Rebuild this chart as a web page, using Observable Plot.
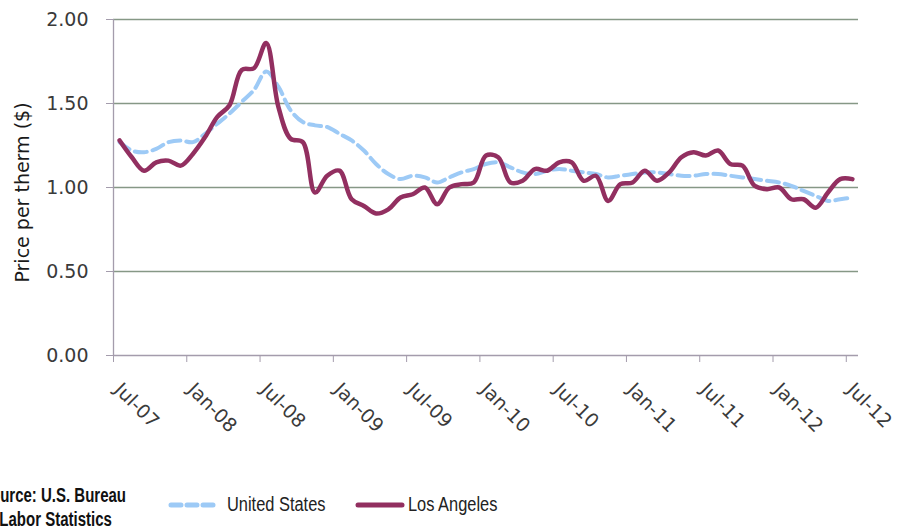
<!DOCTYPE html>
<html>
<head>
<meta charset="utf-8">
<script src="https://cdn.jsdelivr.net/npm/d3@7"></script>
<script src="https://cdn.jsdelivr.net/npm/@observablehq/plot@0.6"></script>
<style>
  body { margin: 0; background: #fff; }
  #wrap { position: relative; width: 897px; height: 531px; overflow: hidden; font-family: "DejaVu Sans", sans-serif; }
  #chart { position: absolute; left: 0; top: 0; }
  #caption { position: absolute; left: -19px; top: 483px; font-family: "Liberation Sans", Arial, sans-serif; font-weight: bold; font-size: 20px; line-height: 24px; color: #111; white-space: nowrap; transform: scaleX(0.75); transform-origin: 0 0; }
  .leg { position: absolute; top: 493px; font-family: "Liberation Sans", Arial, sans-serif; font-size: 20px; color: #222; white-space: nowrap; display: flex; align-items: center; }
  .leg span { display: inline-block; transform: scaleX(0.82); transform-origin: 0 50%; }
</style>
</head>
<body>
<div id="wrap">
  <div id="chart"></div>
  <div id="caption">Source: U.S. Bureau<br>of Labor Statistics</div>
  <div class="leg" id="leg0" style="left:168px"></div>
  <div class="leg" id="leg1" style="left:355px"></div>
</div>
<script>
// Tick labels every 6 months (Jul-07 … Jul-12)
const tickLabels = ["Jul-07","Jan-08","Jul-08","Jan-09","Jul-09","Jan-10","Jul-10","Jan-11","Jul-11","Jan-12","Jul-12"];
const yTicks = [0, 0.5, 1, 1.5, 2];
const seriesNames = ["United States", "Los Angeles"];
const seriesColors = ["#9dcaf6", "#922f60"];

// Monthly price per therm, Jul-07 … Jul-12 (61 months)
const usPrice = [
  1.27, 1.22, 1.21, 1.23, 1.27, 1.28,
  1.27, 1.32, 1.38, 1.44, 1.51, 1.58,
  1.69, 1.60, 1.46, 1.39, 1.37, 1.36,
  1.32, 1.28, 1.22, 1.14, 1.08, 1.05,
  1.07, 1.06, 1.03, 1.06, 1.09, 1.11,
  1.14, 1.15, 1.12, 1.09, 1.08, 1.10,
  1.11, 1.10, 1.09, 1.08, 1.06, 1.07,
  1.08, 1.09, 1.09, 1.08, 1.07, 1.07,
  1.08, 1.08, 1.07, 1.06, 1.05, 1.04,
  1.03, 1.01, 0.98, 0.95, 0.92, 0.93,
  0.94
];
const laPrice = [
  1.28, 1.18, 1.10, 1.15, 1.16, 1.13,
  1.20, 1.30, 1.42, 1.49, 1.70, 1.71,
  1.86, 1.48, 1.29, 1.27, 0.97, 1.07,
  1.10, 0.93, 0.89, 0.845, 0.87, 0.94,
  0.96, 1.00, 0.90, 1.00, 1.02, 1.03,
  1.19, 1.18, 1.03, 1.04, 1.11, 1.10,
  1.15, 1.15, 1.04, 1.07, 0.92, 1.02,
  1.03, 1.10, 1.04, 1.09, 1.18, 1.21,
  1.19, 1.22, 1.14, 1.13, 1.01, 0.99,
  1.00, 0.93, 0.93, 0.88, 0.97, 1.05,
  1.05
];

const nMonths = usPrice.length;
const tickIdx = tickLabels.map((_, k) => k * 6);
const mid = (d, i) => i + 0.5;

const chart = Plot.plot({
  width: 897,
  height: 470,
  marginLeft: 113,
  marginRight: 39,
  marginTop: 19,
  marginBottom: 115,
  style: { fontFamily: "DejaVu Sans, sans-serif", background: "#fff", overflow: "visible" },
  x: { domain: [0, nMonths], axis: null },
  y: { domain: [0, 2], axis: null },
  marks: [
    Plot.ruleY(yTicks.filter(d => d > 0), { stroke: "#869886", strokeWidth: 1.3 }),
    Plot.ruleY([0], { stroke: "#a49cac", strokeWidth: 1.3 }),
    Plot.ruleX([0], { stroke: "#a49cac", strokeWidth: 1.3 }),
    Plot.axisY(yTicks, {
      tickSize: 7, tickPadding: 18, tickFormat: d => d.toFixed(2),
      fontSize: 19, stroke: "#a49cac", fill: "#3a3a3a", label: null
    }),
    Plot.axisX(tickIdx, {
      tickSize: 7, tickFormat: () => "",
      stroke: "#a49cac", label: null
    }),
    Plot.text(tickIdx, {
      x: d => d, text: d => tickLabels[d / 6],
      frameAnchor: "bottom", dx: 4, dy: 31, rotate: 45,
      textAnchor: "start", lineAnchor: "middle",
      fontSize: 19, fill: "#3a3a3a"
    }),
    Plot.text(["Price per therm ($)"], {
      frameAnchor: "left", dx: -91, dy: 5, rotate: -90, textAnchor: "middle",
      fontSize: 19, fill: "#1a1a1a"
    }),
    Plot.line(usPrice, {
      x: mid, y: d => d, curve: "catmull-rom",
      stroke: seriesColors[0], strokeWidth: 4, strokeDasharray: "12,6"
    }),
    Plot.line(laPrice, {
      x: mid, y: d => d, curve: "catmull-rom",
      stroke: seriesColors[1], strokeWidth: 4.5
    })
  ]
});
document.getElementById("chart").appendChild(chart);

// Legend
function swatch(color, dashed, gap) {
  const s = d3.create("svg").attr("width", 50).attr("height", 10).style("margin-right", gap + "px");
  s.append("line").attr("x1", 3).attr("x2", 47).attr("y1", 5).attr("y2", 5)
    .attr("stroke", color).attr("stroke-width", 5)
    .attr("stroke-dasharray", dashed ? "10,6" : null)
    .attr("stroke-linecap", "round");
  return s.node();
}
["leg0", "leg1"].forEach((id, k) => {
  const el = document.getElementById(id);
  el.appendChild(swatch(seriesColors[k], k === 0, k === 0 ? 9 : 3));
  const t = document.createElement("span");
  t.textContent = seriesNames[k];
  el.appendChild(t);
});
</script>
</body>
</html>
